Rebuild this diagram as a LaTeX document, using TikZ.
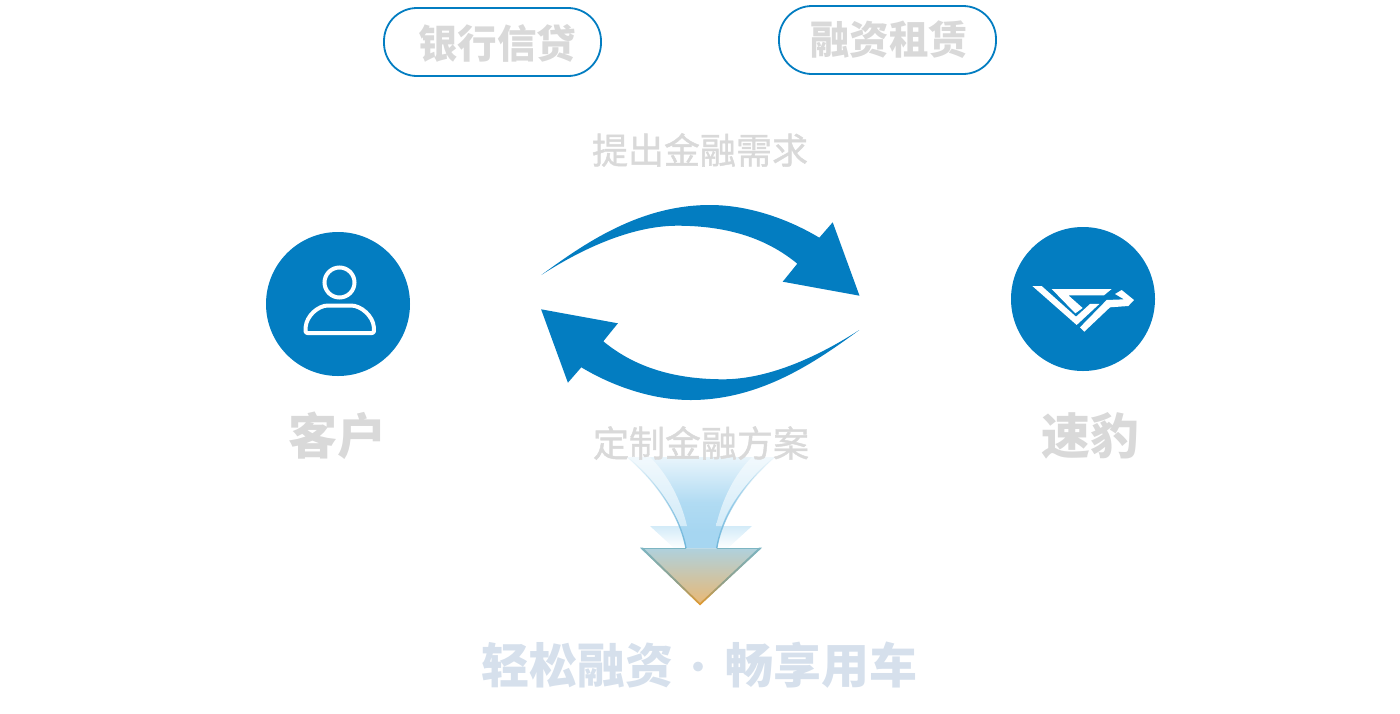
\documentclass[tikz,border=0pt]{standalone}
\usepackage{fontspec}
\setmainfont{Noto Sans CJK SC}
\newfontfamily\midfont[RawFeature={embolden=1.2}]{Noto Sans CJK SC}
\usetikzlibrary{fadings}
\definecolor{brandblue}{HTML}{037DC1}
\definecolor{labelgray}{HTML}{D9D9D9}
\definecolor{sloganblue}{HTML}{D6E0EC}
\definecolor{arrowsky}{HTML}{A6D6F1}
\definecolor{arrowedge}{HTML}{6FB6DA}
\definecolor{glint}{HTML}{D3EBF8}
\definecolor{tealtop}{HTML}{7DB5C2}
\definecolor{tealmid}{HTML}{8FA08A}
\definecolor{orangetip}{HTML}{E6992A}
\definecolor{filltop}{HTML}{AFD1DD}
\definecolor{fillbot}{HTML}{EAB873}
\pgfdeclareverticalshading{bodyshade}{100bp}{
  color(0bp)=(arrowsky); color(34bp)=(arrowsky); color(50bp)=(arrowsky!88!white); color(75bp)=(arrowsky!25!white); color(100bp)=(white)}
\pgfdeclareverticalshading{edgeshade}{100bp}{
  color(0bp)=(orangetip); color(25bp)=(orangetip); color(45bp)=(tealmid); color(75bp)=(tealtop); color(100bp)=(tealtop)}
\tikzfading[name=edgefade, top color=transparent!100, middle color=transparent!75, bottom color=transparent!0]
\tikzset{
  x=1pt,y=-1pt,
  pill/.style={draw=brandblue,line width=1.8pt,rounded corners=33pt,minimum width=217pt,minimum height=68pt,inner sep=0pt},
  pilltext/.style={font=\bfseries\fontsize{39.5}{40}\selectfont,text=labelgray},
  midtext/.style={font=\midfont\fontsize{36}{36}\selectfont,text=labelgray},
  bigtext/.style={font=\bfseries\fontsize{49}{49}\selectfont,text=labelgray},
  slogan/.style={font=\bfseries\fontsize{48}{48}\selectfont,text=sloganblue},
  dotmark/.style={font=\fontsize{46}{46}\selectfont,text=sloganblue},
  disc/.style={circle,fill=brandblue,minimum size=144pt,inner sep=0pt},
  edgeline/.style={draw=arrowedge,line width=1.4pt,path fading=edgefade},
}
\begin{document}
\begin{tikzpicture}
\useasboundingbox (0,0) rectangle (1400,713);
% pills
\node[pill] (bank) at (492.5,42) {};
\node[pilltext] (banktext) at (497,43) {银行信贷};
\node[pill] (lease) at (887.5,40) {};
\node[pilltext] (leasetext) at (889,40) {融资租赁};
% discs
\node[disc] (client) at (338,304) {};
\node[disc] (supplier) at (1083,299) {};
% person icon
\draw[white,line width=4pt] (339.5,282.5) circle (15);
\draw[white,line width=4pt,line join=round,rounded corners=2pt] (305.5,333) -- (374,333) -- (374,329)
  .. controls (373,316) and (361,305.5) .. (349,305.5) -- (330,305.5)
  .. controls (318,305.5) and (306.5,316) .. (305.5,329) -- cycle;
% logo
\begin{scope}[shift={(1000,220)},x=0.3333pt,y=-0.3333pt]
\fill[white] (97,198) -- (125,198) -- (228,290) -- (270,252) -- (298,252) -- (230,315) -- cycle;
\fill[white] (155,207) -- (335,207) -- (312,226) -- (205,226) -- (248,264) -- (226,280) -- cycle;
\fill[white] (240,322) -- (253,335) -- (330,262) -- (385,258) -- (402,240) -- (365,210) -- (345,222) -- (372,238) -- (320,240) -- cycle;
\end{scope}
% circular arrows
\fill[brandblue] (541.3,275) .. controls (585,243) and (640,205) .. (710,205)
  .. controls (750,205) and (790,220) .. (819.3,237.7) -- (832.7,222.3) -- (859.5,295.7) -- (782.7,281.7) -- (797.3,263.7)
  .. controls (765,237) and (725,225.7) .. (676.7,225.7) .. controls (630,226) and (580,250) .. (541.3,275) -- cycle;
\fill[brandblue] (859.3,330) .. controls (815.6,362) and (760.6,400) .. (690.6,400)
  .. controls (650.6,400) and (610.6,385) .. (581.3,367.3) -- (567.9,382.7) -- (541.1,309.3) -- (617.9,323.3) -- (603.3,341.3)
  .. controls (635.6,368) and (675.6,379.3) .. (723.9,379.3) .. controls (770.6,379) and (820.6,355) .. (859.3,330) -- cycle;
% down arrow
\shade[top color=glint,bottom color=white] (650,526) -- (752,526) -- (727,549) -- (675,549) -- cycle;
\shade[shading=bodyshade] (627,457) .. controls (655,480) and (680,515) .. (686,548.3) -- (716.7,548.3) .. controls (722,515) and (747,480) .. (775,457) -- cycle;
\shade[top color=glint!30!white,bottom color=glint] (627,457) .. controls (652,477) and (672,505) .. (680,526) -- (687,526) .. controls (681,500) and (668,475) .. (650,457) -- cycle;
\shade[top color=glint!30!white,bottom color=glint] (775,457) .. controls (750,477) and (728,505) .. (722,526) -- (716,526) .. controls (722,500) and (734,475) .. (752,457) -- cycle;
\shade[top color=filltop,bottom color=fillbot] (640.7,548.3) -- (761.3,548.3) -- (700,605) -- cycle;
\path[edgeline] (627,457) .. controls (655,480) and (680,515) .. (686,548.3);
\path[edgeline] (775,457) .. controls (747,480) and (722,515) .. (716.7,548.3);
\draw[tealtop,line width=1.4pt] (640.7,548.3) -- (686,548.3);
\draw[tealtop,line width=1.4pt] (716.7,548.3) -- (761.3,548.3);
\shade[shading=edgeshade] (640,547.7) -- (700,605.4) -- (700,603) -- (643,547.7) -- cycle;
\shade[shading=edgeshade] (762,547.7) -- (700,605.4) -- (700,603) -- (759,547.7) -- cycle;
% labels
\node[midtext] (need) at (700,150) {提出金融需求};
\node[midtext] (plan) at (701,443) {定制金融方案};
\node[bigtext] (clientlabel) at (337,436) {客户};
\node[bigtext] (supplierlabel) at (1090,436) {速豹};
\node[slogan] (sloganl) at (577,665) {轻松融资};
\node[dotmark] (dot) at (698,673) {·};
\node[slogan] (sloganr) at (821,665) {畅享用车};
\end{tikzpicture}
\end{document}
